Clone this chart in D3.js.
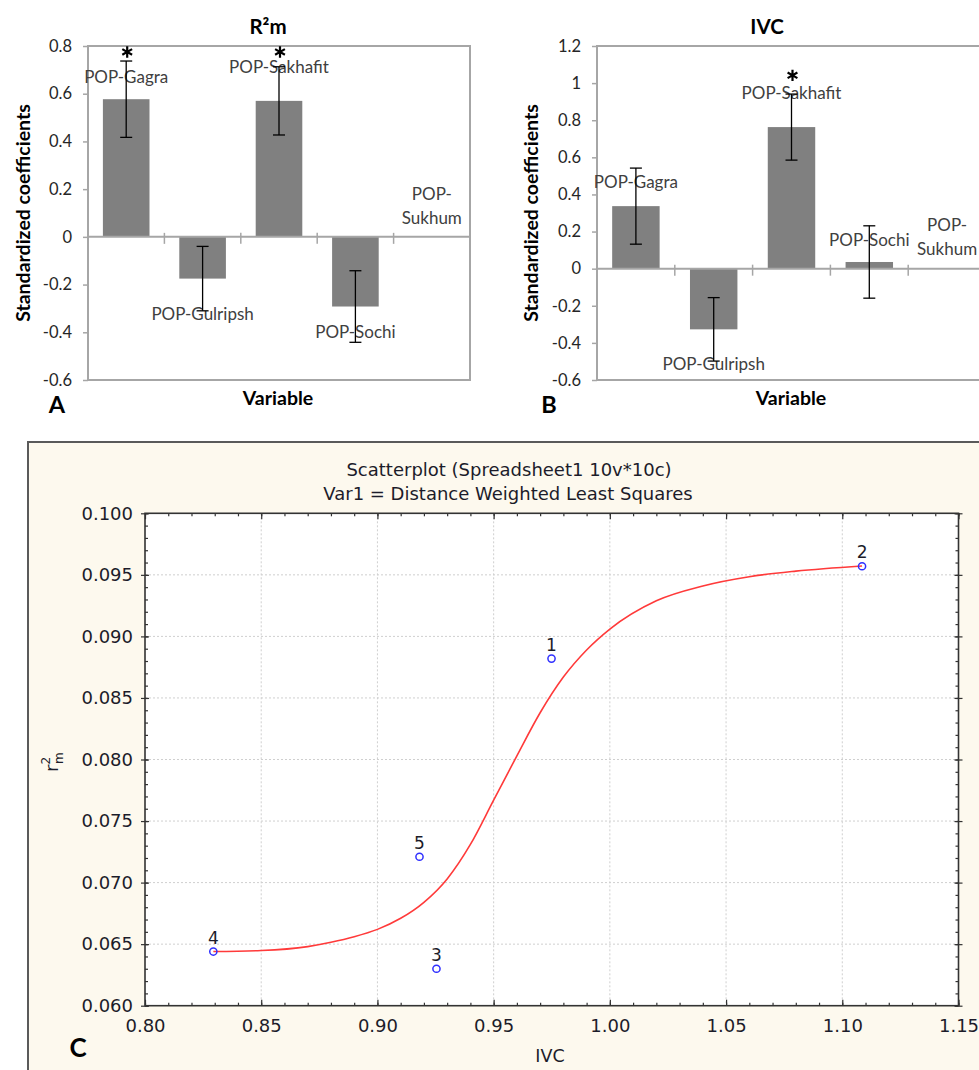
<!DOCTYPE html>
<html>
<head>
<meta charset="utf-8">
<script src="https://cdn.jsdelivr.net/npm/d3@7"></script>
<style>
  body { margin: 0; background: #fff; }
  svg { display: block; }
</style>
</head>
<body>
<script>
// ---- Panels A and B: standardized coefficients ----
const categories = ["POP-Gagra", "POP-Gulripsh", "POP-Sakhafit", "POP-Sochi", "POP-Sukhum"];
const rmValues = [0.577, -0.175, 0.570, -0.292, null];
const rmErrors = [0.160, 0.135, 0.143, 0.150, null];
const rmStars = [true, false, true, false, false];
const rmTicks = [0.8, 0.6, 0.4, 0.2, 0, -0.2, -0.4, -0.6];

const ivcValues = [0.337, -0.327, 0.763, 0.036, null];
const ivcErrors = [0.205, 0.171, 0.178, 0.195, null];
const ivcStars = [false, false, true, false, false];
const ivcTicks = [1.2, 1, 0.8, 0.6, 0.4, 0.2, 0, -0.2, -0.4, -0.6];

// ---- Panel C: scatterplot ----
const caseLabels = ["1", "2", "3", "4", "5"];
const ivcX = [0.9749, 1.1085, 0.9254, 0.8294, 0.9181];
const r2mY = [0.0882, 0.0957, 0.0630, 0.0644, 0.0721];
// distance weighted least squares curve
const fitX = [0.8294, 0.85, 0.87, 0.88, 0.89, 0.90, 0.91, 0.92, 0.93, 0.94, 0.95, 0.96, 0.97, 0.98, 0.99, 1.00, 1.02, 1.04, 1.06, 1.08, 1.1085];
const fitY = [0.0644, 0.06448, 0.0648, 0.06515, 0.0656, 0.0662, 0.0671, 0.0684, 0.0703, 0.0731, 0.0767, 0.0803, 0.0838, 0.0867, 0.0889, 0.0906, 0.0929, 0.0941, 0.09485, 0.0953, 0.09572];
const xMajor = [0.80, 0.85, 0.90, 0.95, 1.00, 1.05, 1.10, 1.15];
const yMajor = [0.060, 0.065, 0.070, 0.075, 0.080, 0.085, 0.090, 0.095, 0.100];

const W = 979, H = 1070;
const svg = d3.select("body").append("svg")
  .attr("width", W)
  .attr("height", H);

const calibri = "Lato, 'Open Sans', sans-serif";

function drawBarPanel(cfg) {
  const g = svg.append("g");
  const y = d3.scaleLinear().domain(cfg.domain).range([cfg.bottom, cfg.top]);
  const x = d3.scaleBand()
    .domain(categories)
    .range([cfg.left, cfg.right])
    .paddingInner(0.39)
    .paddingOuter(0.195);

  // plot box
  g.append("rect")
    .attr("x", cfg.left).attr("y", cfg.top)
    .attr("width", cfg.right - cfg.left)
    .attr("height", cfg.bottom - cfg.top)
    .attr("fill", "none")
    .attr("stroke", "#a6a6a6")
    .attr("stroke-width", 2);

  // y axis labels
  const yAxis = d3.axisLeft(y)
    .tickValues(cfg.ticks)
    .tickSize(5)
    .tickPadding(11)
    .tickFormat(d => String(+d.toFixed(1)));
  const ya = g.append("g")
    .attr("transform", `translate(${cfg.left},0)`)
    .call(yAxis);
  ya.select(".domain").remove();
  ya.selectAll("line").attr("stroke", "#a6a6a6").attr("stroke-width", 1.5);
  ya.selectAll("text")
    .attr("font-family", calibri)
    .attr("font-size", 16.5)
    .attr("fill", "#262626");

  // bars
  const rows = categories.map((c, i) => ({
    c, v: cfg.values[i], e: cfg.errors[i], star: cfg.stars[i], lab: cfg.labelAt[i]
  }));
  g.selectAll("rect.bar")
    .data(rows.filter(d => d.v !== null))
    .enter().append("rect")
    .attr("class", "bar")
    .attr("x", d => x(d.c))
    .attr("width", x.bandwidth())
    .attr("y", d => y(Math.max(0, d.v)))
    .attr("height", d => Math.abs(y(d.v) - y(0)))
    .attr("fill", "#808080");

  // zero line with category separators
  g.append("line")
    .attr("x1", cfg.left).attr("x2", cfg.right)
    .attr("y1", y(0)).attr("y2", y(0))
    .attr("stroke", "#a6a6a6").attr("stroke-width", 2);
  const step = x.step();
  g.selectAll("line.sep")
    .data(categories.slice(1))
    .enter().append("line")
    .attr("class", "sep")
    .attr("x1", d => x(d) - step * 0.195)
    .attr("x2", d => x(d) - step * 0.195)
    .attr("y1", y(0) - 4)
    .attr("y2", y(0) + 7)
    .attr("stroke", "#a6a6a6").attr("stroke-width", 1.5);

  // data labels
  g.selectAll("text.lab")
    .data(rows)
    .enter().append("text")
    .attr("class", "lab")
    .attr("x", d => x(d.c) + x.bandwidth() / 2)
    .attr("y", d => y(d.lab))
    .attr("text-anchor", "middle")
    .attr("font-family", calibri)
    .attr("font-size", 17)
    .attr("fill", "#404040")
    .each(function(d) {
      const t = d3.select(this);
      if (d.v === null) {
        t.append("tspan").attr("x", t.attr("x")).attr("dy", "-0.3em").text("POP-");
        t.append("tspan").attr("x", t.attr("x")).attr("dy", "1.4em").text("Sukhum");
      } else {
        t.attr("dy", "0.35em").text(d.c);
      }
    });

  // error bars
  const eb = g.selectAll("g.err")
    .data(rows.filter(d => d.e !== null))
    .enter().append("g")
    .attr("class", "err")
    .attr("stroke", "#000")
    .attr("stroke-width", 1.3);
  const cx = d => x(d.c) + x.bandwidth() / 2;
  eb.append("line")
    .attr("x1", cx).attr("x2", cx)
    .attr("y1", d => y(d.v - d.e)).attr("y2", d => y(d.v + d.e));
  eb.append("line")
    .attr("x1", d => cx(d) - 6).attr("x2", d => cx(d) + 6)
    .attr("y1", d => y(d.v - d.e)).attr("y2", d => y(d.v - d.e));
  eb.append("line")
    .attr("x1", d => cx(d) - 6).attr("x2", d => cx(d) + 6)
    .attr("y1", d => y(d.v + d.e)).attr("y2", d => y(d.v + d.e));

  // significance stars
  g.selectAll("path.star")
    .data(rows.filter(d => d.star))
    .enter().append("path")
    .attr("class", "star")
    .attr("d", d3.symbol(d3.symbolAsterisk, 90))
    .attr("transform", d => `translate(${cx(d) + 1},${y(cfg.starAt)})`)
    .attr("fill", "none")
    .attr("stroke", "#000")
    .attr("stroke-width", 2.2);

  // titles
  g.append("text")
    .attr("x", cfg.titleX).attr("y", 34)
    .attr("text-anchor", "middle")
    .attr("font-family", calibri).attr("font-weight", 700)
    .attr("font-size", 20.5)
    .text(cfg.title);
  g.append("text")
    .attr("transform", `translate(${cfg.yTitleX},213) rotate(-90)`)
    .attr("text-anchor", "middle")
    .attr("font-family", calibri).attr("font-weight", 700)
    .attr("font-size", 19.5)
    .text("Standardized coefficients");
  g.append("text")
    .attr("x", cfg.xTitleX).attr("y", 405)
    .attr("text-anchor", "middle")
    .attr("font-family", calibri).attr("font-weight", 700)
    .attr("font-size", 19.5)
    .text("Variable");
  g.append("text")
    .attr("x", cfg.letterX).attr("y", 413)
    .attr("text-anchor", "middle")
    .attr("font-family", calibri).attr("font-weight", 700)
    .attr("font-size", 23.5)
    .text(cfg.letter);
}

drawBarPanel({
  values: rmValues, errors: rmErrors, stars: rmStars, ticks: rmTicks,
  domain: [-0.6, 0.8], left: 88, right: 470, top: 46, bottom: 380,
  labelAt: [0.67, -0.322, 0.712, -0.398, 0.134], starAt: 0.775,
  title: "R²m", titleX: 268, yTitleX: 30, xTitleX: 278, letter: "A", letterX: 57
});

drawBarPanel({
  values: ivcValues, errors: ivcErrors, stars: ivcStars, ticks: ivcTicks,
  domain: [-0.6, 1.2], left: 597, right: 986, top: 46, bottom: 380,
  labelAt: [0.465, -0.516, 0.944, 0.154, 0.177], starAt: 1.042,
  title: "IVC", titleX: 767, yTitleX: 538, xTitleX: 791, letter: "B", letterX: 549
});

// ---- Panel C ----
const sans = "'DejaVu Sans', Verdana, sans-serif";
const pc = svg.append("g");
pc.append("rect")
  .attr("x", 28).attr("y", 442)
  .attr("width", 1000).attr("height", 700)
  .attr("fill", "#fdf9ee")
  .attr("stroke", "#5a5a5a")
  .attr("stroke-width", 2);

const cL = 145, cR = 958.5, cT = 513.3, cB = 1005.7;
const xs = d3.scaleLinear().domain([0.80, 1.15]).range([cL, cR]);
const ys = d3.scaleLinear().domain([0.060, 0.100]).range([cB, cT]);

pc.append("rect")
  .attr("x", cL).attr("y", cT)
  .attr("width", cR - cL).attr("height", cB - cT)
  .attr("fill", "#fff");

// grid
pc.append("g").selectAll("line")
  .data(xMajor.slice(1, -1))
  .enter().append("line")
  .attr("x1", d => xs(d)).attr("x2", d => xs(d))
  .attr("y1", cT).attr("y2", cB)
  .attr("stroke", "#cfcfcf").attr("stroke-dasharray", "2,2");
pc.append("g").selectAll("line")
  .data(yMajor.slice(1, -1))
  .enter().append("line")
  .attr("x1", cL).attr("x2", cR)
  .attr("y1", d => ys(d)).attr("y2", d => ys(d))
  .attr("stroke", "#cfcfcf").attr("stroke-dasharray", "2,2");

// ticks on all four sides
const xMinor = d3.range(80, 116).map(d => d / 100);
const yMinor = d3.range(60, 101).map(d => d / 1000);
function tickSide(axisFn, scale, vals, size, tr) {
  const a = pc.append("g")
    .attr("transform", tr)
    .call(axisFn(scale).tickValues(vals).tickSize(size).tickFormat(""));
  a.select(".domain").remove();
  a.selectAll("line").attr("stroke", "#333").attr("stroke-width", 1.2);
}
tickSide(d3.axisBottom, xs, xMinor, -3, `translate(0,${cB})`);
tickSide(d3.axisBottom, xs, xMajor, -6, `translate(0,${cB})`);
tickSide(d3.axisTop, xs, xMinor, -3, `translate(0,${cT})`);
tickSide(d3.axisTop, xs, xMajor, -6, `translate(0,${cT})`);
tickSide(d3.axisLeft, ys, yMinor, -3, `translate(${cL},0)`);
tickSide(d3.axisLeft, ys, yMajor, 4, `translate(${cL},0)`);
tickSide(d3.axisLeft, ys, yMajor, -4, `translate(${cL},0)`);
tickSide(d3.axisRight, ys, yMinor, -3, `translate(${cR},0)`);
tickSide(d3.axisRight, ys, yMajor, 4, `translate(${cR},0)`);
tickSide(d3.axisRight, ys, yMajor, -4, `translate(${cR},0)`);

// tick labels
const xl = pc.append("g")
  .attr("transform", `translate(0,${cB})`)
  .call(d3.axisBottom(xs).tickValues(xMajor).tickSize(0).tickPadding(14).tickFormat(d3.format(".2f")));
const yl = pc.append("g")
  .attr("transform", `translate(${cL},0)`)
  .call(d3.axisLeft(ys).tickValues(yMajor).tickSize(0).tickPadding(12).tickFormat(d3.format(".3f")));
[xl, yl].forEach(a => {
  a.select(".domain").remove();
  a.selectAll("text")
    .attr("font-family", sans)
    .attr("font-size", 18)
    .attr("fill", "#1c1c2a");
});

// frame
pc.append("rect")
  .attr("x", cL).attr("y", cT)
  .attr("width", cR - cL).attr("height", cB - cT)
  .attr("fill", "none")
  .attr("stroke", "#333")
  .attr("stroke-width", 1.6);

// fitted curve
const fit = fitX.map((v, i) => [v, fitY[i]]);
pc.append("path")
  .datum(fit)
  .attr("d", d3.line().x(d => xs(d[0])).y(d => ys(d[1])).curve(d3.curveMonotoneX))
  .attr("fill", "none")
  .attr("stroke", "#ff3a3a")
  .attr("stroke-width", 1.6);

// points and case labels
const pts = caseLabels.map((c, i) => ({ c, x: ivcX[i], y: r2mY[i] }));
pc.selectAll("circle.pt")
  .data(pts)
  .enter().append("circle")
  .attr("class", "pt")
  .attr("cx", d => xs(d.x))
  .attr("cy", d => ys(d.y))
  .attr("r", 3.6)
  .attr("fill", "none")
  .attr("stroke", "#3030ff")
  .attr("stroke-width", 1.5);
pc.selectAll("text.case")
  .data(pts)
  .enter().append("text")
  .attr("class", "case")
  .attr("x", d => xs(d.x))
  .attr("y", d => ys(d.y) - 8)
  .attr("text-anchor", "middle")
  .attr("font-family", sans)
  .attr("font-size", 17)
  .attr("fill", "#1c1c2a")
  .text(d => d.c);

// titles
pc.append("text")
  .attr("x", 509).attr("y", 476)
  .attr("text-anchor", "middle")
  .attr("font-family", sans).attr("font-size", 18)
  .attr("fill", "#1c1c2a")
  .text("Scatterplot (Spreadsheet1 10v*10c)");
pc.append("text")
  .attr("x", 508).attr("y", 500)
  .attr("text-anchor", "middle")
  .attr("font-family", sans).attr("font-size", 18)
  .attr("fill", "#1c1c2a")
  .text("Var1 = Distance Weighted Least Squares");
pc.append("text")
  .attr("x", 550).attr("y", 1062)
  .attr("text-anchor", "middle")
  .attr("font-family", sans).attr("font-size", 17.5)
  .attr("fill", "#1c1c2a")
  .text("IVC");
const yt = pc.append("text")
  .attr("transform", "translate(58,772) rotate(-90)")
  .attr("font-family", sans).attr("font-size", 18)
  .attr("fill", "#1c1c2a");
yt.append("tspan").text("r");
yt.append("tspan").attr("font-size", 12).attr("dy", -8).text("2");
yt.append("tspan").attr("font-size", 12).attr("dx", -7).attr("dy", 13).text("m");
pc.append("text")
  .attr("x", 78).attr("y", 1057)
  .attr("text-anchor", "middle")
  .attr("font-family", calibri).attr("font-weight", 700)
  .attr("font-size", 26)
  .text("C");
</script>
</body>
</html>
